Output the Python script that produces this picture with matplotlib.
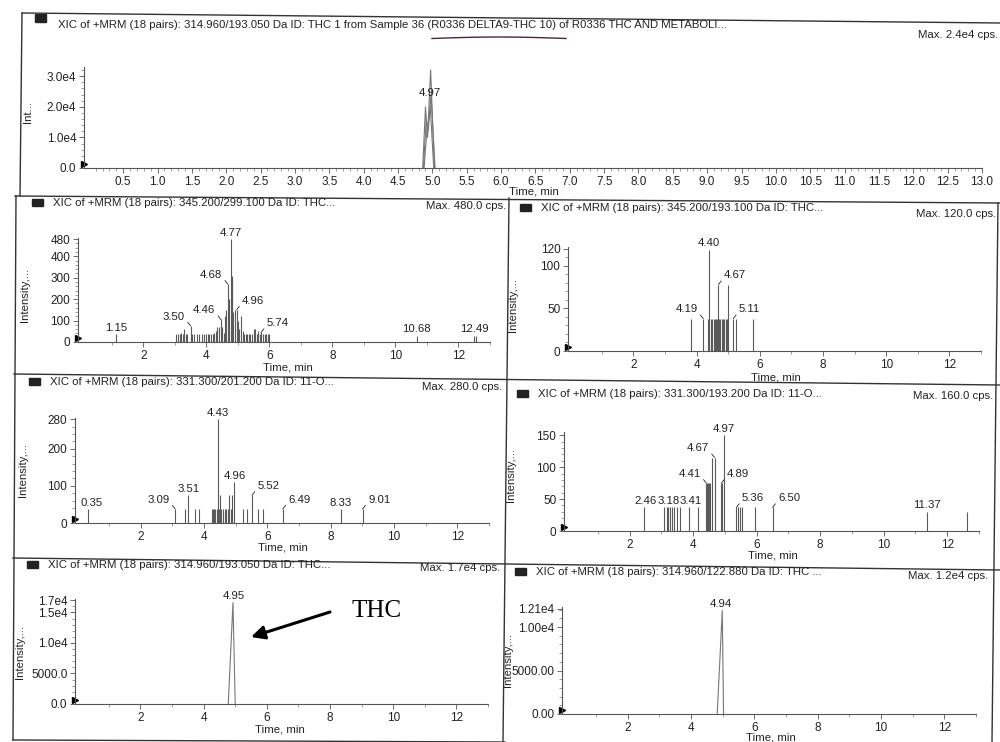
import numpy as np
import matplotlib
matplotlib.use("Agg")
import matplotlib.pyplot as plt
from matplotlib.lines import Line2D
from matplotlib.patches import Rectangle

plt.rcParams['font.family'] = ['Liberation Sans', 'DejaVu Sans']

# ---------------- data ----------------
# top panel: 314.960/193.050 THC, several overlaid traces around the peak
p1_t = [[4.86, 4.90, 4.93, 4.975, 5.03],
        [4.87, 4.91, 4.94, 4.98, 5.04],
        [4.88, 4.92, 4.95, 4.97, 5.02]]
p1_y = [[0, 2.0e4, 1.0e4, 3.2e4, 0],
        [0, 1.6e4, 1.2e4, 2.4e4, 0],
        [0, 1.2e4, 1.6e4, 2.0e4, 0]]

# 345.200/299.100 (stick spectrum)
p2_t = [1.15, 3.05, 3.10, 3.15, 3.20, 3.25, 3.30, 3.35, 3.40, 3.50, 3.55, 3.62,
        3.70, 3.78, 3.85, 3.92, 4.00, 4.05, 4.10, 4.15, 4.20, 4.25, 4.30, 4.35,
        4.40, 4.46, 4.50, 4.55, 4.60, 4.64, 4.68, 4.72, 4.77, 4.80, 4.83, 4.86,
        4.90, 4.96, 5.00, 5.05, 5.10, 5.15, 5.20, 5.25, 5.30, 5.35, 5.40, 5.45,
        5.50, 5.55, 5.60, 5.65, 5.70, 5.74, 5.80, 5.85, 5.90, 5.95, 6.00,
        10.68, 12.49, 12.55]
p2_h = [35, 35, 35, 35, 40, 35, 60, 35, 35, 75, 35, 35,
        35, 35, 35, 35, 35, 35, 35, 35, 35, 40, 50, 70,
        70, 105, 70, 40, 120, 150, 270, 200, 480, 310, 300, 140,
        150, 150, 100, 60, 120, 50, 35, 35, 35, 35, 35, 35,
        60, 60, 35, 50, 35, 45, 35, 35, 35, 35, 35,
        30, 30, 30]

# 345.200/193.100
p3_t = [3.83, 4.21, 4.35, 4.38, 4.40, 4.47, 4.50, 4.55, 4.58, 4.62, 4.65, 4.69,
        4.72, 4.75, 4.80, 4.84, 4.88, 4.92, 4.95, 4.99, 5.16, 5.24, 5.80]
p3_h = [38, 38, 38, 38, 119, 38, 38, 38, 38, 38, 38, 78,
        38, 38, 38, 38, 38, 38, 38, 78, 38, 38, 38]

# 331.300/201.200
p4_t = [0.35, 3.09, 3.39, 3.51, 3.73, 3.83, 4.25, 4.28, 4.32, 4.36, 4.40, 4.43,
        4.47, 4.50, 4.55, 4.60, 4.65, 4.70, 4.75, 4.80, 4.85, 4.90, 4.96,
        5.22, 5.35, 5.52, 5.72, 5.88, 6.49, 8.33, 9.01]
p4_h = [38, 38, 38, 75, 38, 38, 38, 38, 38, 38, 38, 280,
        38, 75, 38, 38, 38, 38, 38, 75, 38, 75, 110,
        38, 38, 75, 38, 38, 38, 38, 38]

# 331.300/193.200
p5_t = [2.46, 3.08, 3.18, 3.22, 3.28, 3.33, 3.41, 3.48, 3.57, 3.86, 4.14,
        4.41, 4.44, 4.47, 4.50, 4.53, 4.60, 4.67, 4.89, 4.92, 4.97,
        5.36, 5.42, 5.48, 5.54, 5.93, 6.50, 11.37, 12.63]
p5_h = [37, 37, 37, 37, 37, 37, 37, 37, 37, 37, 37,
        75, 75, 75, 75, 75, 115, 115, 75, 75, 150,
        37, 37, 37, 37, 37, 37, 30, 30]

# 314.960/193.050 THC and 314.960/122.880 THC
p6_t = [4.78, 4.93, 5.00]
p6_y = [0, 1.66e4, 0]
p7_t = [4.83, 4.99, 5.03]
p7_y = [0, 1.19e4, 0]

W, H = 1000, 742
fig = plt.figure(figsize=(10, 7.42), dpi=100)
TC = '#222222'
LC = '#5a5a5a'


def px(x, y):
    return x / W, 1 - y / H


def add_ax(l, r, t, b):
    return fig.add_axes([l / W, 1 - b / H, (r - l) / W, (b - t) / H])


def ftext(x, y, s, **kw):
    kw.setdefault('fontsize', 8.2)
    kw.setdefault('color', TC)
    fig.text(*px(x, y), s, **kw)


def fline(xs, ys, **kw):
    fig.add_artist(Line2D([x / W for x in xs], [1 - y / H for y in ys],
                          transform=fig.transFigure, **kw))


def style(ax, yticks, ylabels, ymax, xmaj, xmin, xfmt, yminor):
    ax.set_xlim(-0.07, 13.0)
    ax.set_ylim(0, ymax)
    for s in ['top', 'right']:
        ax.spines[s].set_visible(False)
    for s in ['left', 'bottom']:
        ax.spines[s].set_color('#555555')
        ax.spines[s].set_linewidth(0.8)
    ax.set_xticks(xmaj)
    ax.set_xticklabels([xfmt % v for v in xmaj])
    ax.set_xticks(xmin, minor=True)
    ax.set_yticks(yticks)
    ax.set_yticklabels(ylabels)
    ax.set_yticks(yminor, minor=True)
    ax.tick_params(which='major', length=3.5, width=0.6, color='#555555',
                   labelsize=8.5, labelcolor=TC, pad=2)
    ax.tick_params(which='minor', length=2, width=0.5, color='#777777')
    ax.patch.set_alpha(0)
    ax.plot([0.0], [0.04], marker='>', color='k', ms=5,
            transform=ax.transAxes, clip_on=False)


def label(ax, s, t, h, kind='c', tx=None):
    if kind == 'c':
        ax.annotate(s, xy=(t if tx is None else tx, h), xytext=(0, 1),
                    textcoords='offset points', ha='center', va='bottom',
                    fontsize=8.2, color=TC)
    elif kind == 'l':
        ax.annotate(s, xy=(t, h), xytext=(-4, 3), textcoords='offset points',
                    ha='right', va='bottom', fontsize=8.2, color=TC,
                    arrowprops=dict(arrowstyle='-', lw=0.6, color=TC,
                                    shrinkA=0, shrinkB=0, relpos=(1, 0.3)))
    else:
        ax.annotate(s, xy=(t, h), xytext=(4, 3), textcoords='offset points',
                    ha='left', va='bottom', fontsize=8.2, color=TC,
                    arrowprops=dict(arrowstyle='-', lw=0.6, color=TC,
                                    shrinkA=0, shrinkB=0, relpos=(0, 0.3)))


xs_half = np.arange(0.5, 13.01, 0.5)
xs_tenth = np.arange(0.1, 13.01, 0.1)
xs_even = [2, 4, 6, 8, 10, 12]
xs_one = np.arange(1, 13.01, 1)

# ---------------- panel frames (scan is slightly tilted) ----------------
fc = dict(color='#333333', lw=1.0)
fline([22, 1000], [13, 23], **fc)
fline([22, 20], [13, 196], **fc)
fline([15, 1000], [196, 203], **fc)
fline([16, 13], [196, 740], **fc)
fline([14, 1000], [374, 385], **fc)
fline([13, 1000], [558, 570], **fc)
fline([13, 505], [740, 742], **fc)
fline([509, 503], [198, 742], **fc)
fline([998, 992], [203, 742], **fc)

# ---------------- top panel ----------------
ax1 = add_ax(84, 982, 67, 168)
for t, y in zip(p1_t, p1_y):
    ax1.plot(t, y, color='#777777', lw=0.8)
ax1.plot([0, 13], [0, 0], color='#888888', lw=0.6)
style(ax1, [0, 1e4, 2e4, 3e4], ['0.0', '1.0e4', '2.0e4', '3.0e4'], 3.3e4,
      xs_half, xs_tenth, '%.1f', np.arange(0, 3.3e4, 2e3))
ax1.text(4.97, 2.3e4, '4.97', ha='center', va='bottom', fontsize=8.2, color=TC)
fig.add_artist(Rectangle(px(35, 22), 11 / W, 8 / H, transform=fig.transFigure,
                         color='#222222'))
ftext(58, 25, 'XIC of +MRM (18 pairs): 314.960/193.050 Da ID: THC 1 from Sample 36 '
      '(R0336 DELTA9-THC 10) of R0336 THC AND METABOLI...', va='center')
ftext(998, 35, 'Max. 2.4e4 cps.', ha='right', va='center')
ftext(28, 112, 'Int...', rotation=90, ha='center', va='center')
ftext(534, 192, 'Time, min', ha='center', va='center')
# handwritten underline
ux = np.linspace(432, 566, 20)
uy = 38.5 - 1.5 * np.sin(np.linspace(0, np.pi, 20))
fline(ux, uy, color='#4a2a2a', lw=1.0)

# ---------------- generic stick panels ----------------
panels = [
    # l, r, t, b, times, heights, yticks, ylabels, ymax, yminor, title pos, max pos, ylab pos, xlab pos, title
    (78, 490, 238, 342, p2_t, p2_h, [0, 100, 200, 300, 400, 480],
     ['0', '100', '200', '300', '400', '480'], 485, np.arange(0, 481, 20),
     (32, 203), (506, 206), (25, 295), (288, 368),
     'XIC of +MRM (18 pairs): 345.200/299.100 Da ID: THC...', 'Max. 480.0 cps.'),
    (568, 981, 247, 351, p3_t, p3_h, [0, 50, 100, 120],
     ['0', '50', '100', '120'], 122, np.arange(0, 121, 10),
     (520, 208), (996, 214), (513, 305), (776, 377),
     'XIC of +MRM (18 pairs): 345.200/193.100 Da ID: THC...', 'Max. 120.0 cps.'),
    (75, 489, 418, 523, p4_t, p4_h, [0, 100, 200, 280],
     ['0', '100', '200', '280'], 283, np.arange(0, 281, 20),
     (29, 382), (502, 387), (23, 470), (283, 548),
     'XIC of +MRM (18 pairs): 331.300/201.200 Da ID: 11-O...', 'Max. 280.0 cps.'),
    (564, 979, 432, 531, p5_t, p5_h, [0, 50, 100, 150],
     ['0', '50', '100', '150'], 155, np.arange(0, 151, 10),
     (517, 394), (993, 396), (511, 475), (773, 555),
     'XIC of +MRM (18 pairs): 331.300/193.200 Da ID: 11-O...', 'Max. 160.0 cps.'),
    (75, 488, 599, 704, p6_t, p6_y, [0, 5000, 1e4, 1.5e4, 1.7e4],
     ['0.0', '5000.0', '1.0e4', '1.5e4', '1.7e4'], 1.72e4, np.arange(0, 1.71e4, 1000),
     (27, 565), (500, 568), (20, 652), (280, 730),
     'XIC of +MRM (18 pairs): 314.960/193.050 Da ID: THC...', 'Max. 1.7e4 cps.'),
    (562, 976, 607, 714, p7_t, p7_y, [0, 5000, 1e4, 1.21e4],
     ['0.00', '5000.00', '1.00e4', '1.21e4'], 1.23e4, np.arange(0, 1.21e4, 1000),
     (515, 572), (988, 576), (508, 660), (771, 737),
     'XIC of +MRM (18 pairs): 314.960/122.880 Da ID: THC ...', 'Max. 1.2e4 cps.'),
]

axes = []
for i, (l, r, t, b, xt, yh, yt, yl, ymax, ymin_, tp, mp, ylp, xlp, title, mx) in enumerate(panels):
    ax = add_ax(l, r, t, b)
    if i < 4:
        ax.vlines(xt, 0, yh, color=LC, lw=0.8)
    else:
        ax.plot(xt, yh, color='#777777', lw=0.8)
    ax.plot([0, 13], [0, 0], color='#888888', lw=0.6)
    style(ax, yt, yl, ymax, xs_even, xs_one, '%d', ymin_)
    fig.add_artist(Rectangle(px(tp[0], tp[1] + 3), 11 / W, 7 / H,
                             transform=fig.transFigure, color='#222222'))
    ftext(tp[0] + 21, tp[1], title, va='center')
    ftext(mp[0], mp[1], mx, ha='right', va='center')
    ftext(ylp[0], ylp[1], 'Intensity,...', rotation=90, ha='center', va='center')
    ftext(xlp[0], xlp[1], 'Time, min', ha='center', va='center')
    axes.append(ax)

ax2, ax3, ax4, ax5, ax6, ax7 = axes

# peak labels
label(ax2, '4.77', 4.77, 480)
label(ax2, '4.68', 4.68, 270, 'l')
label(ax2, '4.96', 4.96, 150, 'r')
label(ax2, '4.46', 4.46, 105, 'l')
label(ax2, '3.50', 3.50, 75, 'l')
label(ax2, '5.74', 5.74, 45, 'r')
label(ax2, '1.15', 1.15, 35)
label(ax2, '10.68', 10.68, 30)
label(ax2, '12.49', 12.49, 30)

label(ax3, '4.40', 4.40, 119)
label(ax3, '4.67', 4.69, 78, 'r')
label(ax3, '4.19', 4.21, 38, 'l')
label(ax3, '5.11', 5.16, 38, 'r')

label(ax4, '4.43', 4.43, 280)
label(ax4, '4.96', 4.96, 110)
label(ax4, '3.51', 3.51, 75)
label(ax4, '0.35', 0.45, 38)
label(ax4, '3.09', 3.09, 38, 'l')
label(ax4, '5.52', 5.52, 75, 'r')
label(ax4, '6.49', 6.49, 38, 'r')
label(ax4, '8.33', 8.33, 38)
label(ax4, '9.01', 9.01, 38, 'r')

label(ax5, '4.97', 4.97, 150)
label(ax5, '4.67', 4.67, 115, 'l')
label(ax5, '4.41', 4.41, 75, 'l')
label(ax5, '4.89', 4.89, 75, 'r')
label(ax5, '2.46', 2.46, 37, tx=2.49)
label(ax5, '3.18', 3.18, 37, tx=3.21)
label(ax5, '3.41', 3.41, 37, tx=3.93)
label(ax5, '5.36', 5.36, 37, 'r')
label(ax5, '6.50', 6.50, 37, 'r')
label(ax5, '11.37', 11.37, 30)

label(ax6, '4.95', 4.95, 1.66e4)
label(ax7, '4.94', 4.94, 1.19e4)

# THC arrow annotation
fig.add_artist(plt.Text(*px(377, 611), 'THC', transform=fig.transFigure,
                        fontsize=18, family='Liberation Serif', ha='center',
                        va='center', color='black'))
fig.patches.append(matplotlib.patches.FancyArrowPatch(
    px(330, 612), px(251, 637), transform=fig.transFigure,
    arrowstyle='-|>,head_length=8,head_width=4', lw=2.2, color='black',
    shrinkA=0, shrinkB=0))

fig.savefig('out.png', dpi=100, facecolor='white')
